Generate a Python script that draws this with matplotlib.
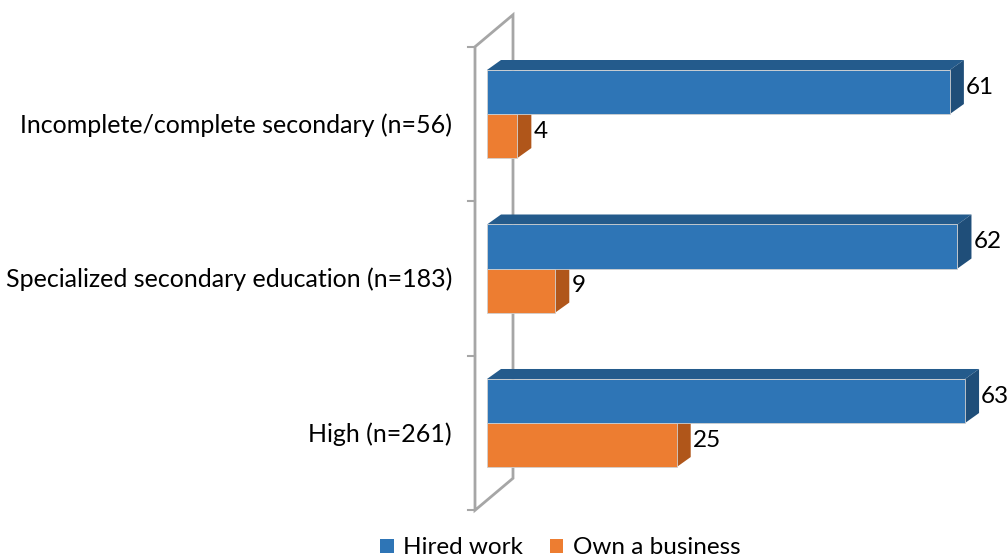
import numpy as np
import matplotlib
matplotlib.use("Agg")
from matplotlib import pyplot as plt
from matplotlib.patches import Polygon, Patch
from matplotlib.transforms import ScaledTranslation

# data
categories = ["Incomplete/complete secondary (n=56)",
              "Specialized secondary education (n=183)",
              "High (n=261)"]
hired_work = [61, 62, 63]
own_business = [4, 9, 25]
series_names = ["Hired work", "Own a business"]

# colours: front, top, side
blue = ("#2E75B6", "#245B8C", "#1F4E79")
orange = ("#ED7D31", "#C5651F", "#B0561A")

plt.rcParams['font.family'] = ['Lato', 'DejaVu Sans']
FS = 17.5

fig = plt.figure(figsize=(10.08, 5.58), dpi=100)
ax = fig.add_axes([487 / 1008, 1 - 510 / 558, 516 / 1008, 495 / 558])
ax.set_xlim(0, 68)
ax.set_ylim(2.563, -0.641)
ax.axis("off")

def px(dx, dy):
    # pixel offset -> data offset (dy positive = up on screen)
    inv = ax.transData.inverted()
    p0 = inv.transform((0, 0))
    p1 = inv.transform((dx, dy))
    return p1 - p0

ddx, ddy = px(14, 10)
h = 0.285

def bar3d(y_top, v, cols):
    front, top, side = cols
    y_bot = y_top + h
    ax.add_patch(Polygon([(0, y_top), (v, y_top), (v + ddx, y_top + ddy), (ddx, y_top + ddy)],
                         closed=True, facecolor=top, edgecolor="none"))
    ax.add_patch(Polygon([(v, y_top), (v, y_bot), (v + ddx, y_bot + ddy), (v + ddx, y_top + ddy)],
                         closed=True, facecolor=side, edgecolor="none"))
    ax.add_patch(Polygon([(0, y_top), (v, y_top), (v, y_bot), (0, y_bot)],
                         closed=True, facecolor=front, edgecolor="#D0D0D0", linewidth=0.6))

# wall
fx, fy = px(-12, -10)
bx, by = px(26, 22)
n = len(categories)
wall = [(fx, -0.5 + fy), (fx, n - 0.5 + fy), (bx, n - 0.5 + by), (bx, -0.5 + by)]
ax.add_patch(Polygon(wall, closed=True, fill=False, edgecolor="#A6A6A6", linewidth=2, clip_on=False))
tx, _ = px(-19, 0)
for b in np.arange(-0.5, n, 1.0):
    ax.plot([tx, fx], [b + fy, b + fy], color="#A6A6A6", linewidth=1.5, clip_on=False)

for i in range(n):
    bar3d(i, own_business[i], orange)
    bar3d(i - h, hired_work[i], blue)
    lx, _ = px(2, 0)
    ax.text(hired_work[i] + ddx + lx, i - h / 2 + ddy / 2, str(hired_work[i]),
            fontsize=FS, va="center", ha="left", color="#000000")
    ax.text(own_business[i] + ddx + lx, i + h / 2 + ddy / 2, str(own_business[i]),
            fontsize=FS, va="center", ha="left", color="#000000")
    off = ScaledTranslation(-35 / 100, -11 / 100, fig.dpi_scale_trans)
    ax.text(0, i, categories[i], fontsize=18, va="center", ha="right",
            transform=ax.transData + off, clip_on=False)

handles = [Patch(facecolor=blue[0]), Patch(facecolor=orange[0])]
fig.legend(handles, series_names, loc="center", bbox_to_anchor=(0.556, 1 - 548 / 558),
           ncol=2, frameon=False, fontsize=FS, handlelength=0.55, handleheight=0.55,
           handletextpad=0.4, columnspacing=1.1, borderpad=0)

fig.savefig("out.png", dpi=100)
